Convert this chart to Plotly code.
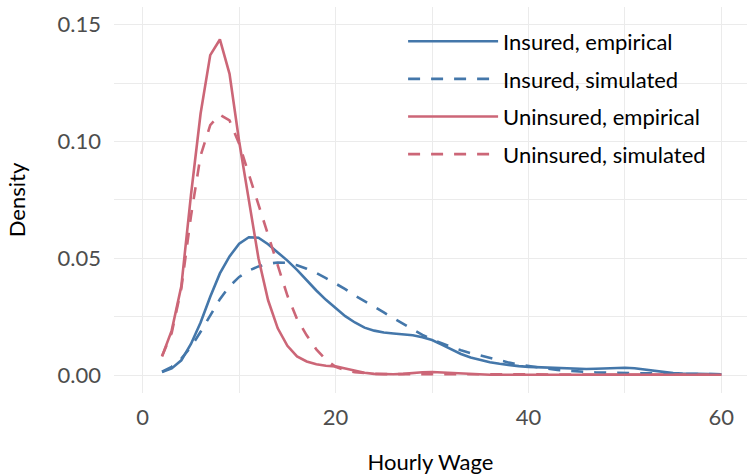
import plotly.graph_objects as go

wage = list(range(2, 61))

insured_empirical = [
    0.0013, 0.0028, 0.0063, 0.0133, 0.0225, 0.0335, 0.0435, 0.0508, 0.0562, 0.0590,
    0.0588, 0.0560, 0.0525, 0.0490, 0.0450, 0.0405, 0.0362, 0.0322, 0.0285, 0.0252,
    0.0225, 0.0203, 0.0190, 0.0182, 0.0178, 0.0175, 0.0170, 0.0162, 0.0150, 0.0130,
    0.0110, 0.0090, 0.0075, 0.0064, 0.0055, 0.0048, 0.0042, 0.0038, 0.0035, 0.0033,
    0.0031, 0.0029, 0.0027, 0.0026, 0.0026, 0.0027, 0.0029, 0.0031, 0.0031, 0.0029,
    0.0024, 0.0018, 0.0012, 0.0008, 0.0006, 0.0005, 0.0004, 0.0003, 0.0003,
]
insured_simulated = [
    0.0014, 0.0035, 0.0070, 0.0120, 0.0185, 0.0255, 0.0325, 0.0380, 0.0420, 0.0447,
    0.0465, 0.0476, 0.0482, 0.0480, 0.0470, 0.0455, 0.0437, 0.0415, 0.0393, 0.0368,
    0.0340, 0.0318, 0.0293, 0.0268, 0.0243, 0.0218, 0.0195, 0.0172, 0.0152, 0.0136,
    0.0120, 0.0106, 0.0094, 0.0083, 0.0073, 0.0063, 0.0053, 0.0045, 0.0038, 0.0032,
    0.0027, 0.0022, 0.0018, 0.0015, 0.0013, 0.0011, 0.0010, 0.0009, 0.0008, 0.0007,
    0.0007, 0.0006, 0.0006, 0.0005, 0.0005, 0.0004, 0.0004, 0.0003, 0.0003,
]
uninsured_empirical = [
    0.0080, 0.0190, 0.0380, 0.0770, 0.1120, 0.1370, 0.1437, 0.1290, 0.1000, 0.0740,
    0.0500, 0.0320, 0.0200, 0.0125, 0.0080, 0.0058, 0.0046, 0.0040, 0.0037, 0.0028,
    0.0018, 0.0010, 0.0005, 0.0003, 0.0003, 0.0005, 0.0009, 0.0012, 0.0013, 0.0011,
    0.0007, 0.0004, 0.0002, 0.0001, 0.0001, 0.0001, 0.0001, 0.0001, 0.0001, 0.0001,
    0.0001, 0.0001, 0.0001, 0.0001, 0.0001, 0.0001, 0.0001, 0.0001, 0.0001, 0.0001,
    0.0001, 0.0001, 0.0001, 0.0001, 0.0001, 0.0001, 0.0001, 0.0001, 0.0001,
]
uninsured_simulated = [
    0.0080, 0.0180, 0.0370, 0.0680, 0.0940, 0.1070, 0.1115, 0.1090, 0.0990, 0.0860,
    0.0720, 0.0590, 0.0460, 0.0340, 0.0240, 0.0170, 0.0110, 0.0065, 0.0035, 0.0020,
    0.0012, 0.0008, 0.0005, 0.0004, 0.0004, 0.0004, 0.0004, 0.0004, 0.0003, 0.0003,
    0.0002, 0.0002, 0.0002, 0.0001, 0.0001, 0.0001, 0.0001, 0.0001, 0.0001, 0.0001,
    0.0001, 0.0001, 0.0001, 0.0001, 0.0001, 0.0001, 0.0001, 0.0001, 0.0001, 0.0001,
    0.0001, 0.0001, 0.0001, 0.0001, 0.0001, 0.0001, 0.0001, 0.0001, 0.0001,
]

series_names = ["Insured, empirical", "Insured, simulated",
                "Uninsured, empirical", "Uninsured, simulated"]
series_values = [insured_empirical, insured_simulated,
                 uninsured_empirical, uninsured_simulated]
series_colors = ["#4477AA", "#4477AA", "#CC6677", "#CC6677"]
series_dash = ["solid", "12px,11px", "solid", "12px,11px"]

x_ticks = [0, 20, 40, 60]
y_ticks = [0.0, 0.05, 0.10, 0.15]
y_tick_labels = ["0.00", "0.05", "0.10", "0.15"]

FONT = "Lato"
GRID = "#EBEBEB"
FS = 22

fig = go.Figure()
for i, (name, vals, col, dash) in enumerate(zip(series_names, series_values, series_colors, series_dash)):
    fig.add_trace(go.Scatter(
        x=wage, y=vals, mode="lines", name=name, legendgroup=f"g{i}",
        line=dict(color=col, width=2.6, dash=dash),
    ))

fig.update_layout(
    width=747, height=475,
    margin=dict(l=114, r=0, t=7, b=82),
    paper_bgcolor="white", plot_bgcolor="white",
    font=dict(family=FONT, size=FS, color="#000000"),
    showlegend=True,
    legend=dict(
        x=0.4567, y=0.965, xanchor="left", yanchor="top",
        bgcolor="rgba(255,255,255,0)", borderwidth=0,
        font=dict(family=FONT, size=FS, color="#000000"),
        itemwidth=90, tracegroupgap=6,
    ),
    xaxis=dict(
        range=[-2.98, 62.66], tickvals=x_ticks, ticktext=[str(v) for v in x_ticks],
        showgrid=True, gridcolor=GRID, gridwidth=1.4,
        minor=dict(dtick=10, tick0=0, showgrid=True, gridcolor=GRID, gridwidth=0.7),
        zeroline=False, showline=False,
        ticks="", ticklabelstandoff=9,
        tickfont=dict(family=FONT, size=FS, color="#4D4D4D"),
        title=dict(text="Hourly Wage", standoff=28,
                   font=dict(family=FONT, size=FS, color="#000000")),
    ),
    yaxis=dict(
        range=[-0.0077, 0.1576], tickvals=y_ticks, ticktext=y_tick_labels,
        showgrid=True, gridcolor=GRID, gridwidth=1.4,
        minor=dict(dtick=0.025, tick0=0, showgrid=True, gridcolor=GRID, gridwidth=0.7),
        zeroline=False, showline=False,
        ticks="", ticklabelstandoff=12,
        tickfont=dict(family=FONT, size=FS, color="#4D4D4D"),
        title=dict(text="Density", standoff=25,
                   font=dict(family=FONT, size=FS, color="#000000")),
    ),
)

fig.write_html("out.html")
